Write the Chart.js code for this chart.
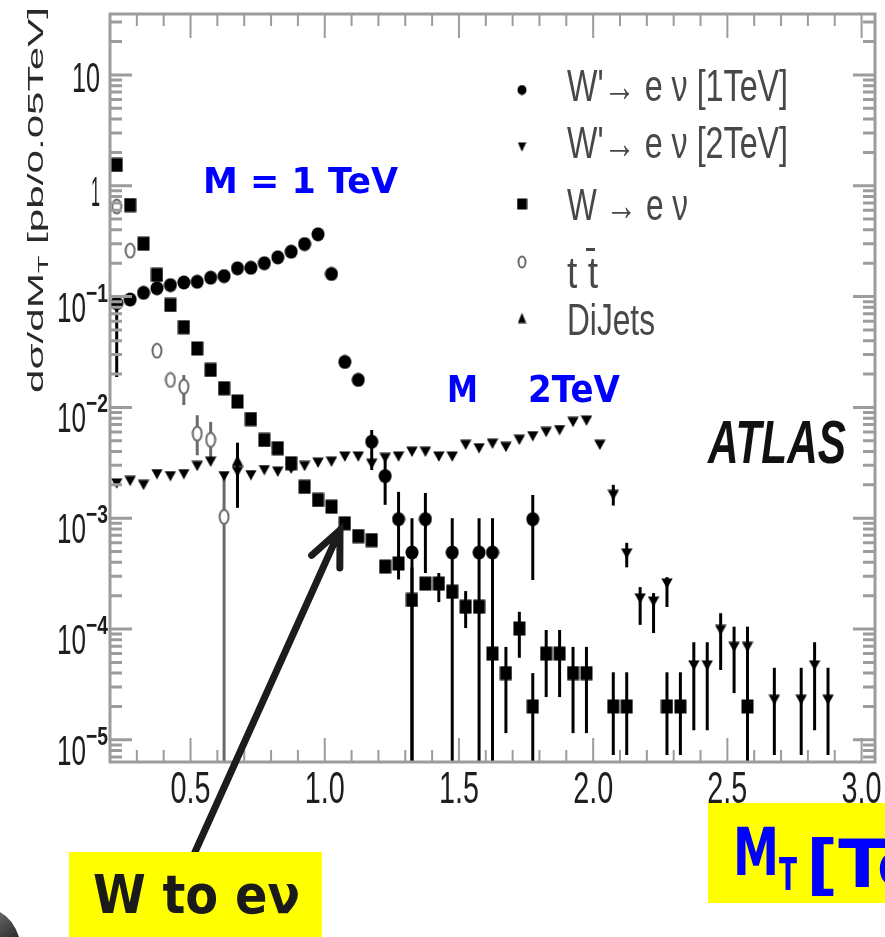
<!DOCTYPE html>
<html>
<head>
<meta charset="utf-8">
<script src="https://cdn.jsdelivr.net/npm/chart.js@4.4.1/dist/chart.umd.min.js"></script>
<style>
  html, body { margin: 0; padding: 0; background: #ffffff; overflow: hidden; }
  canvas { display: block; }
</style>
</head>
<body>
<canvas id="c" width="885" height="937"></canvas>
<script>
// Transverse mass spectra, 0.05 TeV bins (bin centres in TeV, dσ/dM_T in pb/0.05TeV)

// W' -> e nu, M = 1 TeV
const wp1X = [0.225,0.275,0.325,0.375,0.425,0.475,0.525,0.575,0.625,0.675,0.725,0.775,0.825,0.875,0.925,0.975,
              1.025,1.075,1.125,1.175,1.225,1.275,1.325,1.375,1.475,1.575,1.625,1.775];
const wp1Y = [0.087,0.094,0.108,0.119,0.127,0.134,0.136,0.148,0.153,0.180,0.182,0.200,0.226,0.254,0.298,0.365,
              0.16,0.0257,0.0177,0.0049,0.0024,0.00098,0.00049,0.00098,0.00049,0.00049,0.00049,0.00098];
const wp1Lo = [0.0188,null,null,null,null,null,null,null,null,null,null,null,null,null,null,null,
               null,null,null,0.00272,0.00132,0.00028,1e-7,0.00032,1e-7,1e-7,1e-7,0.000277];
const wp1Hi = [0.1,null,null,null,null,null,null,null,null,null,null,null,null,null,null,null,
               null,null,null,0.00625,0.00335,0.00173,0.001,0.00169,0.001,0.001,0.001,0.00162];

// W' -> e nu, M = 2 TeV
const wp2X = [0.225,0.275,0.325,0.375,0.425,0.475,0.525,0.575,0.625,0.675,0.725,0.775,0.825,0.875,0.925,0.975,
              1.025,1.075,1.125,1.175,1.225,1.275,1.325,1.375,1.425,1.475,1.525,1.575,1.625,1.675,1.725,1.775,
              1.825,1.875,1.925,1.975,2.025,2.075,2.125,2.175,2.225,2.275,2.375,2.425,2.475,2.525,2.575,
              2.675,2.775,2.825,2.875];
const wp2Y = [0.00206,0.00217,0.0020,0.0025,0.0024,0.0025,0.00296,0.00324,0.0024,0.00263,0.00245,0.00272,0.00263,0.0028,0.00296,0.00317,
              0.00324,0.0036,0.0036,0.0031,0.0035,0.0036,0.00398,0.00398,0.0036,0.0036,0.0046,0.00428,0.0047,0.0044,0.0051,0.0055,
              0.0060,0.00625,0.0074,0.0076,0.0046,0.00162,0.00048,0.000189,0.000177,0.000258,0.000047,0.000047,0.000098,0.000069,0.000069,
              0.000023,0.000023,0.000047,0.000023];
const wp2Lo = [null,null,null,null,null,null,null,null,null,null,null,null,null,null,null,null,
               null,null,null,null,null,null,null,null,null,null,null,null,null,null,null,null,
               null,null,null,null,null,0.0013,0.00036,0.000109,0.000092,0.000158,0.0000122,0.0000122,0.0000427,0.0000264,1e-7,
               0.0000073,0.0000073,0.0000122,0.0000073];
const wp2Hi = [null,null,null,null,null,null,null,null,null,null,null,null,null,null,null,null,
               null,null,null,null,null,null,null,null,null,null,null,null,null,null,null,null,
               null,null,null,null,null,0.0020,0.0006,0.000239,0.000211,0.000294,0.000076,0.000076,0.000139,0.000105,0.000105,
               0.0000447,0.0000447,0.000076,0.0000447];

// W -> e nu
const wX = [0.225,0.275,0.325,0.375,0.425,0.475,0.525,0.575,0.625,0.675,0.725,0.775,0.825,0.875,0.925,0.975,
            1.025,1.075,1.125,1.175,1.225,1.275,1.325,1.375,1.425,1.475,1.525,1.575,1.625,1.675,1.725,1.775,
            1.825,1.875,1.925,1.975,2.075,2.125,2.275,2.325,2.575];
const wY = [1.54,0.67,0.30,0.157,0.084,0.053,0.034,0.0218,0.0149,0.0113,0.00785,0.00508,0.00428,0.00313,0.00192,0.00146,
            0.00127,0.0009,0.00069,0.000635,0.000366,0.00039,0.000183,0.000257,0.000257,0.000217,0.000159,0.000159,0.00006,0.00004,0.000101,0.00002,
            0.00006,0.00006,0.00004,0.00004,0.00002,0.00002,0.00002,0.00002,0.00002];
const wLo = [null,null,null,null,null,null,null,null,null,null,null,null,null,null,null,null,
             null,null,null,null,null,null,1e-7,null,0.000175,null,0.000102,null,null,0.0000115,0.000055,1e-7,
             0.0000243,0.0000243,0.0000115,0.0000115,0.0000073,0.0000073,0.0000073,0.0000073,0.0000073];
const wHi = [null,null,null,null,null,null,null,null,null,null,null,null,null,null,null,null,
             null,null,null,null,null,null,0.00036,null,0.00032,null,0.00022,null,null,0.000069,0.000143,0.00004,
             0.000098,0.000098,0.000069,0.000069,0.0000407,0.0000407,0.0000407,0.0000407,0.0000407];

// t tbar
const ttX = [0.225,0.275,0.375,0.425,0.475,0.525,0.575,0.625];
const ttY = [0.65,0.26,0.0325,0.0177,0.0154,0.0058,0.0051,0.00103];
const ttLo = [null,null,null,null,0.0105,0.0037,0.00335,1e-7];
const ttHi = [null,null,null,null,0.0196,0.0085,0.0074,0.00245];

// DiJets
const djX = [0.675];
const djY = [0.0033];
const djLo = [0.00124];
const djHi = [0.0048];

// axis tick labels
const xTickLabels = ['0.5','1.0','1.5','2.0','2.5','3.0'];
const yDecades = [1, 0, -1, -2, -3, -4, -5];

const legendLabels = ["W'\u2192 e \u03bd [1TeV]", "W'\u2192 e \u03bd [2TeV]", "W \u2192 e \u03bd", "t t", "DiJets"];

function pts(xs, ys) { return xs.map((x, i) => ({ x: x, y: ys[i] })); }

// marker sprites
function makeMarker(kind, w, h) {
  const c = document.createElement('canvas');
  c.width = w; c.height = h;
  const g = c.getContext('2d');
  g.fillStyle = '#000';
  g.beginPath();
  if (kind === 'dot') {
    g.ellipse(w / 2, h / 2, w / 2 - 0.5, h / 2 - 0.5, 0, 0, Math.PI * 2); g.fill();
  } else if (kind === 'box') {
    g.fillRect(0.5, 0.5, w - 1, h - 1);
  } else if (kind === 'down') {
    g.moveTo(0.3, 0.5); g.lineTo(w - 0.3, 0.5); g.lineTo(w / 2, h - 0.3); g.closePath(); g.fill();
  } else if (kind === 'up') {
    g.moveTo(w / 2, 0.3); g.lineTo(w - 0.3, h - 0.5); g.lineTo(0.3, h - 0.5); g.closePath(); g.fill();
  } else if (kind === 'ring') {
    g.ellipse(w / 2, h / 2, w / 2 - 1.5, h / 2 - 1.5, 0, 0, Math.PI * 2);
    g.fillStyle = '#fff'; g.fill();
    g.strokeStyle = '#6a6a6a'; g.lineWidth = 2; g.stroke();
  }
  return c;
}

const mDot = makeMarker('dot', 14, 15);
const mBox = makeMarker('box', 13, 15);
const mDown = makeMarker('down', 12, 11);
const mRing = makeMarker('ring', 12, 17);
const mUp = makeMarker('up', 12, 12);

// legend sprites (smaller)
const lDot = makeMarker('dot', 10, 11);
const lDown = makeMarker('down', 9, 10);
const lBox = makeMarker('box', 11, 12);
const lRing = makeMarker('ring', 10, 14);
const lUp = makeMarker('up', 9, 11);

// text squeezed to a given width
function squeezed(ctx, text, x, y, font, width, align) {
  ctx.font = font;
  const w = ctx.measureText(text).width;
  const sx = width / w;
  ctx.save();
  ctx.translate(x, y);
  ctx.scale(sx, 1);
  ctx.textAlign = align || 'left';
  ctx.textBaseline = 'alphabetic';
  ctx.fillText(text, 0, 0);
  ctx.restore();
}

const errorBars = {
  id: 'errorBars',
  beforeDatasetsDraw(chart) {
    const { ctx, chartArea: a, scales: { x, y } } = chart;
    ctx.save();
    ctx.beginPath();
    ctx.rect(a.left, a.top, a.right - a.left, a.bottom - a.top);
    ctx.clip();
    chart.data.datasets.forEach(ds => {
      if (!ds.errLo) return;
      ctx.strokeStyle = ds.errColor;
      ctx.lineWidth = 3;
      ds.data.forEach((p, i) => {
        const lo = ds.errLo[i], hi = ds.errHi[i];
        if (lo == null || hi == null) return;
        const px = x.getPixelForValue(p.x);
        const y1 = y.getPixelForValue(hi);
        const y2 = Math.min(y.getPixelForValue(lo), a.bottom + 4);
        ctx.beginPath();
        ctx.moveTo(px, y1);
        ctx.lineTo(px, y2);
        ctx.stroke();
      });
    });
    ctx.restore();
  }
};

const frameAndText = {
  id: 'frameAndText',
  afterDraw(chart) {
    const { ctx, chartArea: a, scales: { x, y } } = chart;
    ctx.save();

    // frame
    ctx.strokeStyle = '#9c9c9c';
    ctx.lineWidth = 3;
    ctx.strokeRect(a.left, a.top, a.right - a.left, a.bottom - a.top);

    // log ticks on left and right
    ctx.lineWidth = 3;
    for (let e = -6; e <= 1; e++) {
      for (let m = 1; m <= 9; m++) {
        const v = m * Math.pow(10, e);
        if (v < y.min || v > y.max) continue;
        const py = y.getPixelForValue(v);
        const len = m === 1 ? 22 : 12;
        ctx.beginPath();
        ctx.moveTo(a.left, py); ctx.lineTo(a.left + len, py);
        ctx.moveTo(a.right, py); ctx.lineTo(a.right - len, py);
        ctx.stroke();
      }
    }
    // linear ticks on top and bottom
    ctx.lineWidth = 2;
    for (let k = 3; k <= 30; k++) {
      const px = x.getPixelForValue(k / 10);
      const len = k % 5 === 0 ? 24 : 12;
      ctx.beginPath();
      ctx.moveTo(px, a.top); ctx.lineTo(px, a.top + len);
      ctx.moveTo(px, a.bottom); ctx.lineTo(px, a.bottom - len);
      ctx.stroke();
    }

    // y tick labels
    ctx.fillStyle = '#1e1e1e';
    yDecades.forEach(e => {
      const py = y.getPixelForValue(Math.pow(10, e));
      if (e === 1) {
        squeezed(ctx, '10', 100, py + 17, '42px "Liberation Sans"', 28, 'right');
      } else if (e === 0) {
        squeezed(ctx, '1', 100, py + 20, '42px "Liberation Sans"', 9, 'right');
      } else {
        squeezed(ctx, '10', 86, py + 25, '42px "Liberation Sans"', 29, 'right');
        squeezed(ctx, '\u2212' + (-e), 108, py + 5, 'bold 26px "Liberation Sans"', 22, 'right');
      }
    });

    // x tick labels
    xTickLabels.forEach(t => {
      const px = x.getPixelForValue(parseFloat(t));
      squeezed(ctx, t, px, 803, '44px "Liberation Sans"', 40, 'center');
    });

    // y axis title
    ctx.save();
    ctx.translate(43, 393);
    ctx.rotate(-Math.PI / 2);
    const f1 = '22px "Liberation Sans"', f2 = '15px "Liberation Sans"';
    ctx.font = f1; const w1 = ctx.measureText('d\u03c3/dM').width;
    ctx.font = f2; const w2 = ctx.measureText('T').width;
    ctx.font = f1; const w3 = ctx.measureText(' [pb/0.05TeV]').width;
    const s = 386 / (w1 + w2 + w3);
    ctx.scale(s, 1);
    ctx.fillStyle = '#2a2a2a';
    ctx.textBaseline = 'alphabetic';
    ctx.font = f1; ctx.fillText('d\u03c3/dM', 0, 0);
    ctx.font = f2; ctx.fillText('T', w1, 5);
    ctx.font = f1; ctx.fillText(' [pb/0.05TeV]', w1 + w2, 0);
    ctx.restore();

    // legend
    const legY = [90, 147, 204, 262, 318];
    const legMarks = [lDot, lDown, lBox, lRing, lUp];
    const legBase = [101, 158, 220, 288, 335];
    const legWidth = [221, 221, 121, 31, 88];
    legMarks.forEach((mk, i) => {
      ctx.drawImage(mk, 522 - mk.width / 2, legY[i] - mk.height / 2);
    });
    ctx.fillStyle = '#484848';
    legendLabels.forEach((t, i) => {
      squeezed(ctx, t, 567, legBase[i], '44px "Liberation Sans"', legWidth[i], 'left');
    });
    // bar over the second t
    ctx.fillRect(586, 248, 9, 3);

    // ATLAS label
    ctx.fillStyle = '#111';
    squeezed(ctx, 'ATLAS', 708, 463, 'bold italic 62px "Liberation Sans"', 138, 'left');

    // mass annotations
    ctx.fillStyle = '#0000ff';
    squeezed(ctx, 'M = 1 TeV', 203, 193, 'bold 36px "DejaVu Sans"', 195, 'left');
    squeezed(ctx, 'M', 447, 402, 'bold 38px "DejaVu Sans"', 31, 'left');
    squeezed(ctx, '2TeV', 528, 402, 'bold 38px "DejaVu Sans"', 92, 'left');

    // arrow to the W spectrum
    const tipX = 340, tipY = 530, tailX = 195, tailY = 852;
    ctx.strokeStyle = '#1c1c1c';
    ctx.lineWidth = 7;
    ctx.lineCap = 'round';
    ctx.beginPath();
    ctx.moveTo(tailX, tailY); ctx.lineTo(tipX, tipY);
    const ang = Math.atan2(tailY - tipY, tailX - tipX);
    const wing = 38, spread = 24 * Math.PI / 180;
    ctx.moveTo(tipX + wing * Math.cos(ang + spread), tipY + wing * Math.sin(ang + spread));
    ctx.lineTo(tipX, tipY);
    ctx.lineTo(tipX + wing * Math.cos(ang - spread), tipY + wing * Math.sin(ang - spread));
    ctx.stroke();

    // yellow boxes
    ctx.fillStyle = '#ffff00';
    ctx.fillRect(69, 852, 253, 85);
    ctx.fillRect(708, 803, 177, 100);
    ctx.fillStyle = '#1a1a1a';
    squeezed(ctx, 'W to e\u03bd', 93, 913, 'bold 54px "DejaVu Sans"', 207, 'left');
    ctx.fillStyle = '#0000ff';
    squeezed(ctx, 'M', 733, 875, 'bold 66px "DejaVu Sans"', 46, 'left');
    squeezed(ctx, 'T', 779, 890, 'bold 44px "DejaVu Sans"', 18, 'left');
    squeezed(ctx, '[TeV]', 806, 887, 'bold 66px "DejaVu Sans"', 205, 'left');

    // dark corner
    const gr = ctx.createLinearGradient(0, 910, 20, 937);
    gr.addColorStop(0, '#6a6a6a');
    gr.addColorStop(1, '#2a2a2a');
    ctx.fillStyle = gr;
    ctx.beginPath();
    ctx.moveTo(0, 912);
    ctx.quadraticCurveTo(13, 919, 19, 937);
    ctx.lineTo(0, 937);
    ctx.closePath();
    ctx.fill();

    ctx.restore();
  }
};

new Chart(document.getElementById('c'), {
  type: 'scatter',
  data: {
    datasets: [
      { label: legendLabels[0], data: pts(wp1X, wp1Y), errLo: wp1Lo, errHi: wp1Hi, errColor: '#000',
        pointStyle: mDot, pointRadius: 7, showLine: false },
      { label: legendLabels[1], data: pts(wp2X, wp2Y), errLo: wp2Lo, errHi: wp2Hi, errColor: '#000',
        pointStyle: mDown, pointRadius: 6, showLine: false },
      { label: legendLabels[2], data: pts(wX, wY), errLo: wLo, errHi: wHi, errColor: '#000',
        pointStyle: mBox, pointRadius: 7, showLine: false },
      { label: legendLabels[3], data: pts(ttX, ttY), errLo: ttLo, errHi: ttHi, errColor: '#6a6a6a',
        pointStyle: mRing, pointRadius: 7, showLine: false },
      { label: legendLabels[4], data: pts(djX, djY), errLo: djLo, errHi: djHi, errColor: '#000',
        pointStyle: mUp, pointRadius: 6, showLine: false }
    ]
  },
  options: {
    responsive: false,
    devicePixelRatio: 1,
    animation: false,
    events: [],
    layout: { padding: { left: 110, top: 14, right: 10, bottom: 175 } },
    plugins: { legend: { display: false }, tooltip: { enabled: false } },
    scales: {
      x: { type: 'linear', min: 0.2, max: 3.05, display: false },
      y: { type: 'logarithmic', min: Math.pow(10, -5.2), max: Math.pow(10, 1.55), display: false }
    }
  },
  plugins: [errorBars, frameAndText]
});
</script>
</body>
</html>
